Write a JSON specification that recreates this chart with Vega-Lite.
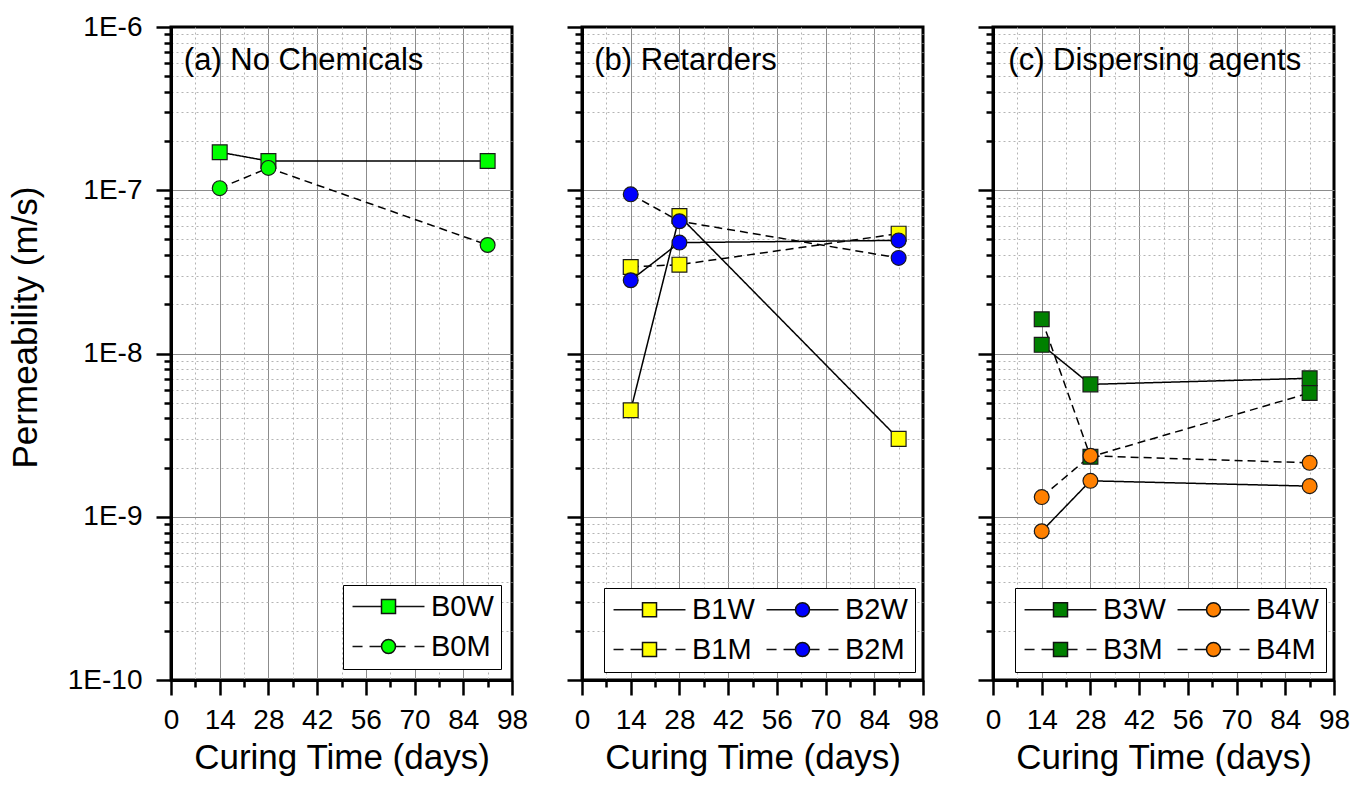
{
  "$schema": "https://vega.github.io/schema/vega-lite/v6.json",
  "padding": {"left": 6, "top": 11, "right": 0, "bottom": 0},
  "autosize": {"type": "pad"},
  "spacing": 70,
  "bounds": "flush",
  "resolve": {
    "scale": {"x": "independent", "y": "independent", "fill": "independent", "shape": "independent", "strokeDash": "independent", "stroke": "independent"},
    "legend": {"fill": "independent", "shape": "independent", "strokeDash": "independent", "stroke": "independent"}
  },
  "config": {
    "view": {"stroke": "black", "strokeWidth": 3},
    "axis": {
      "domainColor": "black", "domainWidth": 3, "tickColor": "black", "tickWidth": 2.5,
      "labelFont": "Liberation Sans", "labelFontSize": 28, "labelColor": "black",
      "titleFont": "Liberation Sans", "titleFontSize": 35, "titleFontWeight": "normal", "titleColor": "black",
      "grid": true, "gridWidth": 1
    },
    "legend": {"labelFont": "Liberation Sans", "labelColor": "black", "labelFontSize": 29, "title": null, "orient": "bottom-right",
      "padding": 7, "rowPadding": 10, "columnPadding": 8, "strokeColor": "black", "fillColor": "white",
      "labelOffset": 52, "symbolSize": 196, "symbolStrokeWidth": 1.5},
    "text": {"font": "Liberation Sans"}
  },
  "hconcat": [
    {
      "width": 341, "height": 653,
      "data": {"values": [
        {"series": "B0W", "day": 14, "k": 1.71e-7},
        {"series": "B0W", "day": 28, "k": 1.51e-7},
        {"series": "B0W", "day": 91, "k": 1.51e-7},
        {"series": "B0M", "day": 14, "k": 1.03e-7},
        {"series": "B0M", "day": 28, "k": 1.37e-7},
        {"series": "B0M", "day": 91, "k": 4.62e-8}
      ]},
      "encoding": {
        "x": {"field": "day", "type": "quantitative", "scale": {"domain": [0, 98], "nice": false, "zero": false},
          "axis": {
            "values": [0, 7, 14, 21, 28, 35, 42, 49, 56, 63, 70, 77, 84, 91, 98],
            "labelExpr": "datum.value % 14 === 0 ? datum.label : ''",
            "labelFlush": false, "labelOverlap": false, "labelPadding": 11,
            "tickSize": {"expr": "datum.value % 14 === 0 ? 15 : 7"},
            "gridColor": {"condition": {"test": "datum.value % 14 === 0", "value": "#8c8c8c"}, "value": "#b4b4b4"},
            "gridDash": {"condition": {"test": "datum.value % 14 === 0", "value": []}, "value": [2, 3]},
            "gridOpacity": {"condition": {"test": "datum.value === 0 || datum.value === 98", "value": 0}, "value": 1},
            "title": "Curing Time (days)", "titleX": 170.5, "titleY": 88, "titleBaseline": "alphabetic", "titleAlign": "center"
          }},
        "y": {"field": "k", "type": "quantitative", "scale": {"type": "log", "domain": [1e-10, 1e-6], "nice": false},
          "axis": {
            "values": [1e-10,2e-10,3e-10,4e-10,5e-10,6e-10,7e-10,8e-10,9e-10,1e-9,2e-9,3e-9,4e-9,5e-9,6e-9,7e-9,8e-9,9e-9,1e-8,2e-8,3e-8,4e-8,5e-8,6e-8,7e-8,8e-8,9e-8,1e-7,2e-7,3e-7,4e-7,5e-7,6e-7,7e-7,8e-7,9e-7,1e-6],
            "labelExpr": "abs(log(datum.value)/LN10 - round(log(datum.value)/LN10)) < 0.01 ? '1E' + round(log(datum.value)/LN10) : ''",
            "labelOverlap": false, "labelPadding": 14,
            "tickSize": {"expr": "abs(log(datum.value)/LN10 - round(log(datum.value)/LN10)) < 0.01 ? 15 : 7"},
            "gridColor": {"condition": {"test": "abs(log(datum.value)/LN10 - round(log(datum.value)/LN10)) < 0.01", "value": "#8c8c8c"}, "value": "#b4b4b4"},
            "gridDash": {"condition": {"test": "abs(log(datum.value)/LN10 - round(log(datum.value)/LN10)) < 0.01", "value": []}, "value": [2, 3]},
            "gridOpacity": {"condition": {"test": "datum.value > 9.9e-7 || datum.value < 1.01e-10", "value": 0}, "value": 1},
            "title": "Permeability (m/s)", "titleX": -135, "titleY": 300, "titleAngle": -90, "titleAlign": "center", "titleBaseline": "alphabetic"
          }}
      },
      "resolve": {"scale": {"fill": "independent", "shape": "independent", "stroke": "independent"}},
      "layer": [
        {
          "mark": {"type": "line", "color": "black", "strokeWidth": 1.5},
          "encoding": {
            "detail": {"field": "series", "type": "nominal"},
            "strokeDash": {"field": "series", "type": "nominal", "scale": {"domain": ["B0M", "B0W"], "range": [[8, 5], [1, 0]]}, "legend": null}
          }
        },
        {
          "mark": {"type": "point", "filled": true, "opacity": 1, "size": 220, "stroke": "#1a1a1a", "strokeWidth": 1.2},
          "encoding": {
            "fill": {"field": "series", "type": "nominal", "scale": {"domain": ["B0M", "B0W"], "range": ["#00ff00", "#00ff00"]}, "legend": null},
            "shape": {"field": "series", "type": "nominal", "scale": {"domain": ["B0M", "B0W"], "range": ["circle", "square"]}, "legend": null}
          }
        },
        {
          "transform": [{"filter": "false"}],
          "mark": {"type": "point", "filled": true, "opacity": 1, "strokeWidth": 1.5},
          "encoding": {
            "fill": {"field": "series", "type": "nominal", "scale": {"domain": ["B0W", "B0M"], "range": ["#00ff00", "#00ff00"]},
              "legend": {"offset": 11, "columns": 1}},
            "stroke": {"field": "series", "type": "nominal", "scale": {"domain": ["B0W", "B0M"], "range": ["#111111", "#111111"]},
              "legend": {"offset": 11, "columns": 1}},
            "shape": {"field": "series", "type": "nominal", "scale": {"domain": ["B0W", "B0M"], "range": [
              "M-1.71,0H2.43M4.43,0H8.57M2.43,-1H4.43V1H2.43Z",
              "M-1.71,0H-0.28M0.72,0H2.43M4.43,0H5.86M7.14,0H8.57M2.43,0A1,1,0,1,1,4.43,0A1,1,0,1,1,2.43,0Z"
            ]}, "legend": {"offset": 11, "columns": 1}}
          }
        },
        {
          "data": {"values": [{"t": "(a) No Chemicals", "day": 3.7, "k": 5.45e-7}]},
          "mark": {"type": "text", "align": "left", "baseline": "alphabetic", "fontSize": 31, "color": "black"},
          "encoding": {
            "text": {"field": "t", "type": "nominal"}
          }
        }
      ]
    },
    {
      "width": 341, "height": 653,
      "data": {"values": [
        {"series": "B1W", "day": 14, "k": 4.49e-9},
        {"series": "B1W", "day": 28, "k": 6.95e-8},
        {"series": "B1W", "day": 91, "k": 3.0e-9},
        {"series": "B1M", "day": 14, "k": 3.39e-8},
        {"series": "B1M", "day": 28, "k": 3.5e-8},
        {"series": "B1M", "day": 91, "k": 5.42e-8},
        {"series": "B2W", "day": 14, "k": 2.81e-8},
        {"series": "B2W", "day": 28, "k": 4.78e-8},
        {"series": "B2W", "day": 91, "k": 4.93e-8},
        {"series": "B2M", "day": 14, "k": 9.44e-8},
        {"series": "B2M", "day": 28, "k": 6.46e-8},
        {"series": "B2M", "day": 91, "k": 3.85e-8}
      ]},
      "encoding": {
        "x": {"field": "day", "type": "quantitative", "scale": {"domain": [0, 98], "nice": false, "zero": false},
          "axis": {
            "values": [0, 7, 14, 21, 28, 35, 42, 49, 56, 63, 70, 77, 84, 91, 98],
            "labelExpr": "datum.value % 14 === 0 ? datum.label : ''",
            "labelFlush": false, "labelOverlap": false, "labelPadding": 11,
            "tickSize": {"expr": "datum.value % 14 === 0 ? 15 : 7"},
            "gridColor": {"condition": {"test": "datum.value % 14 === 0", "value": "#8c8c8c"}, "value": "#b4b4b4"},
            "gridDash": {"condition": {"test": "datum.value % 14 === 0", "value": []}, "value": [2, 3]},
            "gridOpacity": {"condition": {"test": "datum.value === 0 || datum.value === 98", "value": 0}, "value": 1},
            "title": "Curing Time (days)", "titleX": 170.5, "titleY": 88, "titleBaseline": "alphabetic", "titleAlign": "center"
          }},
        "y": {"field": "k", "type": "quantitative", "scale": {"type": "log", "domain": [1e-10, 1e-6], "nice": false},
          "axis": {
            "values": [1e-10,2e-10,3e-10,4e-10,5e-10,6e-10,7e-10,8e-10,9e-10,1e-9,2e-9,3e-9,4e-9,5e-9,6e-9,7e-9,8e-9,9e-9,1e-8,2e-8,3e-8,4e-8,5e-8,6e-8,7e-8,8e-8,9e-8,1e-7,2e-7,3e-7,4e-7,5e-7,6e-7,7e-7,8e-7,9e-7,1e-6],
            "labels": false, "title": null,
            "tickSize": {"expr": "abs(log(datum.value)/LN10 - round(log(datum.value)/LN10)) < 0.01 ? 15 : 7"},
            "gridColor": {"condition": {"test": "abs(log(datum.value)/LN10 - round(log(datum.value)/LN10)) < 0.01", "value": "#8c8c8c"}, "value": "#b4b4b4"},
            "gridDash": {"condition": {"test": "abs(log(datum.value)/LN10 - round(log(datum.value)/LN10)) < 0.01", "value": []}, "value": [2, 3]},
            "gridOpacity": {"condition": {"test": "datum.value > 9.9e-7 || datum.value < 1.01e-10", "value": 0}, "value": 1}
          }}
      },
      "resolve": {"scale": {"fill": "independent", "shape": "independent", "stroke": "independent"}},
      "layer": [
        {
          "mark": {"type": "line", "color": "black", "strokeWidth": 1.5},
          "encoding": {
            "detail": {"field": "series", "type": "nominal"},
            "strokeDash": {"field": "series", "type": "nominal", "scale": {"domain": ["B1M", "B1W", "B2M", "B2W"], "range": [[8, 5], [1, 0], [8, 5], [1, 0]]}, "legend": null}
          }
        },
        {
          "mark": {"type": "point", "filled": true, "opacity": 1, "size": 220, "stroke": "#1a1a1a", "strokeWidth": 1.2},
          "encoding": {
            "fill": {"field": "series", "type": "nominal", "scale": {"domain": ["B1M", "B1W", "B2M", "B2W"], "range": ["#ffff00", "#ffff00", "#0000ff", "#0000ff"]}, "legend": null},
            "shape": {"field": "series", "type": "nominal", "scale": {"domain": ["B1M", "B1W", "B2M", "B2W"], "range": ["square", "square", "circle", "circle"]}, "legend": null}
          }
        },
        {
          "transform": [{"filter": "false"}],
          "mark": {"type": "point", "filled": true, "opacity": 1, "strokeWidth": 1.5},
          "encoding": {
            "fill": {"field": "series", "type": "nominal", "scale": {"domain": ["B1W", "B1M", "B2W", "B2M"], "range": ["#ffff00", "#ffff00", "#0000ff", "#0000ff"]},
              "legend": {"offset": 8, "columns": 2}},
            "stroke": {"field": "series", "type": "nominal", "scale": {"domain": ["B1W", "B1M", "B2W", "B2M"], "range": ["#111111", "#111111", "#111111", "#111111"]},
              "legend": {"offset": 8, "columns": 2}},
            "shape": {"field": "series", "type": "nominal", "scale": {"domain": ["B1W", "B1M", "B2W", "B2M"], "range": [
              "M-1.71,0H2.43M4.43,0H8.57M2.43,-1H4.43V1H2.43Z",
              "M-1.71,0H-0.28M0.72,0H2.43M4.43,0H5.86M7.14,0H8.57M2.43,-1H4.43V1H2.43Z",
              "M-1.71,0H2.43M4.43,0H8.57M2.43,0A1,1,0,1,1,4.43,0A1,1,0,1,1,2.43,0Z",
              "M-1.71,0H-0.28M0.72,0H2.43M4.43,0H5.86M7.14,0H8.57M2.43,0A1,1,0,1,1,4.43,0A1,1,0,1,1,2.43,0Z"
            ]}, "legend": {"offset": 8, "columns": 2}}
          }
        },
        {
          "data": {"values": [{"t": "(b) Retarders", "day": 3.5, "k": 5.45e-7}]},
          "mark": {"type": "text", "align": "left", "baseline": "alphabetic", "fontSize": 31, "color": "black"},
          "encoding": {
            "text": {"field": "t", "type": "nominal"}
          }
        }
      ]
    },
    {
      "width": 341, "height": 653,
      "data": {"values": [
        {"series": "B3W", "day": 14, "k": 1.13e-8},
        {"series": "B3W", "day": 28, "k": 6.47e-9},
        {"series": "B3W", "day": 91, "k": 7.05e-9},
        {"series": "B3M", "day": 14, "k": 1.62e-8},
        {"series": "B3M", "day": 28, "k": 2.33e-9},
        {"series": "B3M", "day": 91, "k": 5.73e-9},
        {"series": "B4W", "day": 14, "k": 8.15e-10},
        {"series": "B4W", "day": 28, "k": 1.66e-9},
        {"series": "B4W", "day": 91, "k": 1.54e-9},
        {"series": "B4M", "day": 14, "k": 1.32e-9},
        {"series": "B4M", "day": 28, "k": 2.36e-9},
        {"series": "B4M", "day": 91, "k": 2.14e-9}
      ]},
      "encoding": {
        "x": {"field": "day", "type": "quantitative", "scale": {"domain": [0, 98], "nice": false, "zero": false},
          "axis": {
            "values": [0, 7, 14, 21, 28, 35, 42, 49, 56, 63, 70, 77, 84, 91, 98],
            "labelExpr": "datum.value % 14 === 0 ? datum.label : ''",
            "labelFlush": false, "labelOverlap": false, "labelPadding": 11,
            "tickSize": {"expr": "datum.value % 14 === 0 ? 15 : 7"},
            "gridColor": {"condition": {"test": "datum.value % 14 === 0", "value": "#8c8c8c"}, "value": "#b4b4b4"},
            "gridDash": {"condition": {"test": "datum.value % 14 === 0", "value": []}, "value": [2, 3]},
            "gridOpacity": {"condition": {"test": "datum.value === 0 || datum.value === 98", "value": 0}, "value": 1},
            "title": "Curing Time (days)", "titleX": 170.5, "titleY": 88, "titleBaseline": "alphabetic", "titleAlign": "center"
          }},
        "y": {"field": "k", "type": "quantitative", "scale": {"type": "log", "domain": [1e-10, 1e-6], "nice": false},
          "axis": {
            "values": [1e-10,2e-10,3e-10,4e-10,5e-10,6e-10,7e-10,8e-10,9e-10,1e-9,2e-9,3e-9,4e-9,5e-9,6e-9,7e-9,8e-9,9e-9,1e-8,2e-8,3e-8,4e-8,5e-8,6e-8,7e-8,8e-8,9e-8,1e-7,2e-7,3e-7,4e-7,5e-7,6e-7,7e-7,8e-7,9e-7,1e-6],
            "labels": false, "title": null,
            "tickSize": {"expr": "abs(log(datum.value)/LN10 - round(log(datum.value)/LN10)) < 0.01 ? 15 : 7"},
            "gridColor": {"condition": {"test": "abs(log(datum.value)/LN10 - round(log(datum.value)/LN10)) < 0.01", "value": "#8c8c8c"}, "value": "#b4b4b4"},
            "gridDash": {"condition": {"test": "abs(log(datum.value)/LN10 - round(log(datum.value)/LN10)) < 0.01", "value": []}, "value": [2, 3]},
            "gridOpacity": {"condition": {"test": "datum.value > 9.9e-7 || datum.value < 1.01e-10", "value": 0}, "value": 1}
          }}
      },
      "resolve": {"scale": {"fill": "independent", "shape": "independent", "stroke": "independent"}},
      "layer": [
        {
          "mark": {"type": "line", "color": "black", "strokeWidth": 1.5},
          "encoding": {
            "detail": {"field": "series", "type": "nominal"},
            "strokeDash": {"field": "series", "type": "nominal", "scale": {"domain": ["B3M", "B3W", "B4M", "B4W"], "range": [[8, 5], [1, 0], [8, 5], [1, 0]]}, "legend": null}
          }
        },
        {
          "mark": {"type": "point", "filled": true, "opacity": 1, "size": 220, "stroke": "#1a1a1a", "strokeWidth": 1.2},
          "encoding": {
            "fill": {"field": "series", "type": "nominal", "scale": {"domain": ["B3M", "B3W", "B4M", "B4W"], "range": ["#008000", "#008000", "#ff8000", "#ff8000"]}, "legend": null},
            "shape": {"field": "series", "type": "nominal", "scale": {"domain": ["B3M", "B3W", "B4M", "B4W"], "range": ["square", "square", "circle", "circle"]}, "legend": null}
          }
        },
        {
          "transform": [{"filter": "false"}],
          "mark": {"type": "point", "filled": true, "opacity": 1, "strokeWidth": 1.5},
          "encoding": {
            "fill": {"field": "series", "type": "nominal", "scale": {"domain": ["B3W", "B3M", "B4W", "B4M"], "range": ["#008000", "#008000", "#ff8000", "#ff8000"]},
              "legend": {"offset": 8, "columns": 2}},
            "stroke": {"field": "series", "type": "nominal", "scale": {"domain": ["B3W", "B3M", "B4W", "B4M"], "range": ["#111111", "#111111", "#111111", "#111111"]},
              "legend": {"offset": 8, "columns": 2}},
            "shape": {"field": "series", "type": "nominal", "scale": {"domain": ["B3W", "B3M", "B4W", "B4M"], "range": [
              "M-1.71,0H2.43M4.43,0H8.57M2.43,-1H4.43V1H2.43Z",
              "M-1.71,0H-0.28M0.72,0H2.43M4.43,0H5.86M7.14,0H8.57M2.43,-1H4.43V1H2.43Z",
              "M-1.71,0H2.43M4.43,0H8.57M2.43,0A1,1,0,1,1,4.43,0A1,1,0,1,1,2.43,0Z",
              "M-1.71,0H-0.28M0.72,0H2.43M4.43,0H5.86M7.14,0H8.57M2.43,0A1,1,0,1,1,4.43,0A1,1,0,1,1,2.43,0Z"
            ]}, "legend": {"offset": 8, "columns": 2}}
          }
        },
        {
          "data": {"values": [{"t": "(c) Dispersing agents", "day": 4.4, "k": 5.45e-7}]},
          "mark": {"type": "text", "align": "left", "baseline": "alphabetic", "fontSize": 31, "color": "black"},
          "encoding": {
            "text": {"field": "t", "type": "nominal"}
          }
        }
      ]
    }
  ]
}
